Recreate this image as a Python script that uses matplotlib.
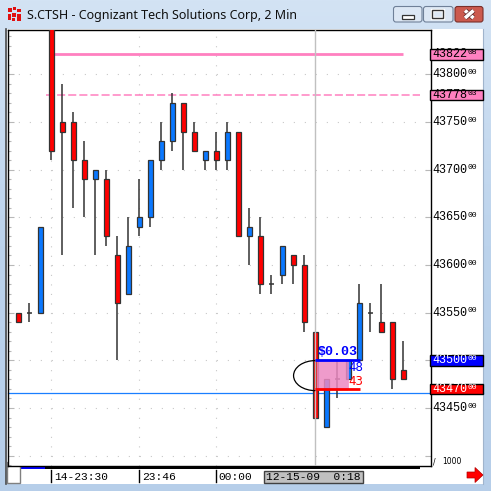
import matplotlib
matplotlib.use("Agg")
import matplotlib.pyplot as plt
import matplotlib.transforms as mtransforms
from matplotlib.patches import Rectangle, FancyBboxPatch, Arc, Polygon
from matplotlib.colors import LinearSegmentedColormap
import matplotlib.patheffects as pe
import numpy as np

plt.rcParams['lines.scale_dashes'] = False

# ---------------- data ----------------
title = "S.CTSH - Cognizant Tech Solutions Corp, 2 Min"
opens  = [4355, 4355, 4355, 4387, 4375, 4375, 4371, 4369, 4369, 4361, 4357, 4364,
          4365, 4371, 4373, 4377, 4374, 4371, 4372, 4371, 4374, 4363, 4363, 4358,
          4359, 4361, 4360, 4353, 4343, 4348, 4348, 4350, 4355, 4354, 4354, 4349]
highs  = [4355, 4356, 4364, 4388, 4379, 4376, 4373, 4370, 4370, 4363, 4365, 4369,
          4371, 4375, 4378, 4377, 4375, 4372, 4374, 4375, 4374, 4366, 4365, 4359,
          4362, 4361, 4361, 4353, 4348, 4350, 4350, 4358, 4356, 4358, 4354, 4352]
lows   = [4354, 4354, 4355, 4371, 4361, 4366, 4365, 4361, 4362, 4350, 4357, 4363,
          4364, 4370, 4372, 4370, 4372, 4370, 4370, 4370, 4363, 4360, 4357, 4357,
          4358, 4358, 4353, 4344, 4343, 4346, 4348, 4350, 4353, 4353, 4347, 4348]
closes = [4354, 4355, 4364, 4372, 4374, 4371, 4369, 4370, 4363, 4356, 4362, 4365,
          4371, 4373, 4377, 4374, 4372, 4372, 4371, 4374, 4363, 4364, 4358, 4358,
          4362, 4360, 4354, 4344, 4348, 4348, 4350, 4356, 4355, 4353, 4348, 4348]

price_levels = [4345, 4355, 4360, 4365, 4370, 4375, 4380]
grid_levels = [4340, 4345, 4350, 4355, 4360, 4365, 4370, 4375, 4380]
boxed_values = [4382.08, 4377.83, 4350.0, 4347.0]
boxed_main = ["43822", "43778", "43500", "43470"]
boxed_sup = ["08", "03", "00", "00"]
boxed_fc = ["#ff80c0", "#ff80c0", "#0000ff", "#ff0000"]
boxed_tc = ["black", "black", "white", "white"]

time_idx = [3, 11, 18]
time_lbl = ["14-23:30", "23:46", "00:00"]
cursor_idx = 27
cursor_lbl = "12-15-09  0:18"

hi_line = 4382.08
hi_dash = 4377.83
pos_line = 4346.6
tgt_top = 4350.0
tgt_bot = 4347.0
pnl_text = "$0.03"
top_lbl = "48"
bot_lbl = "43"

# ---------------- figure ----------------
W = H = 491.0
fig = plt.figure(figsize=(4.91, 4.91), dpi=100)

def fx(x):
    return x / W

def fy(y):
    return 1 - y / H

bg = fig.add_axes([0, 0, 1, 1], zorder=-5)
bg.set_xlim(0, W)
bg.set_ylim(H, 0)
bg.axis('off')
cm = LinearSegmentedColormap.from_list('f', ['#d3e3f4', '#bcd3ec', '#b6cee9'])
bg.imshow(np.linspace(0, 1, 256).reshape(-1, 1), extent=[0, W, H, 0],
          cmap=cm, aspect='auto', zorder=0)
bg.add_patch(Rectangle((7, 29), 476, 455, fc='white', ec='none', zorder=1))
bg.plot([6.5, 6.5], [29, 484], color='#4a4a4a', lw=1.2, zorder=2)
bg.plot([483.5, 483.5], [29, 484], color='#a0b4cc', lw=0.8, zorder=2)

# title bar
bg.text(27, 15.5, title, fontsize=9, family='Noto Sans', va='center', ha='left',
        color='#101010', zorder=3)
for (ix, iy, iw, ih) in [(8, 8, 4, 4), (13, 7, 3, 3), (17, 9, 4, 3), (8, 14, 3, 6),
                         (12, 13, 4, 4), (17, 14, 4, 7), (12, 18, 3, 3)]:
    bg.add_patch(Rectangle((ix, iy), iw, ih, fc='#e01010', ec='none', zorder=3))
for bx, bw_, fc, ec in [(393.5, 28.5, '#dce7f4', '#6f8098'),
                        (423.5, 29.5, '#dce7f4', '#6f8098'),
                        (455.0, 28.0, '#cc5a4e', '#7a2f2a')]:
    bg.add_patch(FancyBboxPatch((bx, 6.5), bw_, 15.5,
                                boxstyle='round,pad=0,rounding_size=2.5',
                                fc=fc, ec=ec, lw=0.8, zorder=3))
bg.add_patch(Rectangle((402, 15), 12, 3.5, fc='white', ec='#333333', lw=0.9, zorder=4))
bg.add_patch(Rectangle((432.5, 10), 11, 7.5, fc='none', ec='white', lw=2.4, zorder=4))
bg.add_patch(Rectangle((432.5, 10), 11, 7.5, fc='none', ec='#333333', lw=1.0, zorder=4))
for (x0, y0, x1, y1) in [(465, 10.5, 473.5, 18), (473.5, 10.5, 465, 18)]:
    bg.plot([x0, x1], [y0, y1], color='white', lw=2.6, solid_capstyle='butt', zorder=5,
            path_effects=[pe.Stroke(linewidth=3.6, foreground='#5a2020'), pe.Normal()])

# bottom time-bar decorations
bg.add_patch(Rectangle((20, 466), 400, 3.2, fc='black', ec='none', zorder=3))
bg.add_patch(Rectangle((20, 467.3), 25, 1.8, fc='#0000ff', ec='none', zorder=4))
bg.add_patch(Rectangle((7, 462), 13.5, 20.5, fc='white', ec='#808080', lw=1, zorder=4))
bg.text(433, 462, '/', fontsize=5.5, va='center', ha='left', zorder=4)
bg.text(442, 462, '1000', fontsize=5.5, va='center', ha='left', zorder=4)
bg.add_patch(Polygon([[467, 472], [475, 472], [475, 467.5], [483, 475], [475, 482.5],
                      [475, 478], [467, 478]], fc='#ff0000', ec='#b00000', lw=0.5, zorder=4))

# ---------------- main chart ----------------
ax = fig.add_axes([fx(8), fy(466), (431 - 8) / W, (466 - 29.5) / H])
ax.set_facecolor('white')
x0, x1 = -0.936, 37.52
y0, y1 = 4338.92, 4384.70
ax.set_xlim(x0, x1)
ax.set_ylim(y0, y1)
for s in ax.spines.values():
    s.set_color('black')
    s.set_linewidth(1.0)

ax.set_xticks([])
ax.set_yticks(np.arange(4340, 4385, 5))
ax.set_yticks(np.arange(4339, 4385, 1), minor=True)
ax.tick_params(axis='y', which='both', direction='in', left=True, right=True,
               labelleft=False, labelright=False, color='#b8b8b8', width=0.8)
ax.tick_params(axis='y', which='major', length=4)
ax.tick_params(axis='y', which='minor', length=2.5, right=False)

# dotted grid
ax.hlines(grid_levels, x0, x1, colors='#c8c8c8', lw=0.8,
          linestyles=(0.5, (0.8, 7.12)), zorder=1)
ax.vlines(time_idx, y0, y1, colors='#c8c8c8', lw=0.8,
          linestyles=(0, (0.8, 6.06)), zorder=1)

# reference lines
ax.hlines(hi_line, 3, 35, color='#ff80c0', lw=2.0, zorder=1.5)
ax.hlines(hi_dash, 2.5, 36.5, color='#ff80c0', lw=1.1,
          linestyles=(0, (5.8, 2.2)), zorder=1.5)
ax.axhline(pos_line, xmin=0, xmax=(483 - 8) / (431 - 8), color='#1a7fff', lw=0.9,
           clip_on=False, zorder=1.6)

# candles
xi = np.arange(len(opens))
o = np.array(opens, float)
c = np.array(closes, float)
h = np.array(highs, float)
l = np.array(lows, float)
up = c > o
dn = c < o
dj = c == o
bw = 0.42
ax.vlines(xi, l, h, color='#333333', lw=1.1, zorder=2)
ax.bar(xi[up], (c - o)[up], bottom=o[up], width=bw, color='#0a78ff',
       edgecolor='#333333', lw=0.9, zorder=3)
ax.bar(xi[dn], (o - c)[dn], bottom=c[dn], width=bw, color='#ff0000',
       edgecolor='#333333', lw=0.9, zorder=3)
ax.hlines(o[dj], xi[dj] - bw / 2, xi[dj] + bw / 2, color='#333333', lw=1.1, zorder=3)

# crosshair
ax.axvline(cursor_idx, color='#c0c0c0', lw=1.0, zorder=4.5)

# trade box overlay
ax.add_patch(Rectangle((cursor_idx - 0.05, tgt_bot - 0.2), 3.0, tgt_top - tgt_bot + 0.1,
                       fc='#808080', alpha=0.25, ec='none', zorder=4.6))
ax.add_patch(Rectangle((cursor_idx + 0.12, tgt_bot - 0.1), 2.95, tgt_top - tgt_bot + 0.1,
                       fc='#f48ac6', alpha=0.8, ec='none', zorder=5))
ax.hlines([tgt_top], cursor_idx, cursor_idx + 4.06, color='#0000ff', lw=2.0, zorder=6)
ax.hlines([tgt_bot], cursor_idx, cursor_idx + 4.06, color='#ff0000', lw=2.0, zorder=6)
ax.add_patch(Arc((cursor_idx, (tgt_top + tgt_bot) / 2 - 0.1), 3.95, 3.15,
                 theta1=90, theta2=270, color='black', lw=0.9, zorder=6))
ax.text(cursor_idx + 0.2, tgt_top + 0.9, pnl_text, color='#0000ff', fontsize=9.5,
        family='Liberation Mono', weight='bold', va='center', ha='left', zorder=7)
ax.text(cursor_idx + 3.05, tgt_top - 0.75, top_lbl, color='#0000ff', fontsize=8.5,
        va='center', ha='left', zorder=7)
ax.text(cursor_idx + 3.05, tgt_bot + 0.75, bot_lbl, color='#ff0000', fontsize=8.5,
        va='center', ha='left', zorder=7)

# ---------------- price panel ----------------
tr = mtransforms.blended_transform_factory(fig.transFigure, ax.transData)
for v in price_levels:
    ax.text(fx(432), v, f"{v * 10:d}", transform=tr, fontsize=8.5,
            family='Liberation Mono', va='center', ha='left', color='black')
    ax.text(fx(468), v + 0.18, "00", transform=tr, fontsize=5.8,
            family='Liberation Mono', va='center', ha='left', color='black')
hh = 0.56
for v, m, s, fcol, tc in zip(boxed_values, boxed_main, boxed_sup, boxed_fc, boxed_tc):
    ax.add_patch(Rectangle((fx(430), v - hh), fx(483) - fx(430), 2 * hh, transform=tr,
                           fc=fcol, ec='black', lw=1.0, clip_on=False, zorder=8))
    ax.text(fx(432), v, m, transform=tr, fontsize=8.5, family='Liberation Mono',
            va='center', ha='left', color=tc, zorder=9)
    ax.text(fx(468), v + 0.18, s, transform=tr, fontsize=5.8, family='Liberation Mono',
            va='center', ha='left', color=tc, zorder=9)

# ---------------- time axis ----------------
trx = mtransforms.blended_transform_factory(ax.transData, fig.transFigure)
for i, lbl in zip(time_idx, time_lbl):
    ax.plot([i - 0.03, i - 0.03], [fy(470), fy(482)], transform=trx, color='black',
            lw=1.0, clip_on=False)
    ax.text(i + 0.22, fy(476.5), lbl, transform=trx, family='Liberation Mono',
            fontsize=8.1, va='center', ha='left', color='black')
ax.add_patch(Rectangle((cursor_idx - 4.66, fy(483)), 9.0, fy(470.5) - fy(483),
                       transform=trx, fc='#c0c0c0', ec='#404040', lw=1.0, clip_on=False))
ax.text(cursor_idx - 0.15, fy(476.5), cursor_lbl, transform=trx, family='Liberation Mono',
        fontsize=8.1, va='center', ha='center', color='black')

fig.savefig('out.png', dpi=100)
